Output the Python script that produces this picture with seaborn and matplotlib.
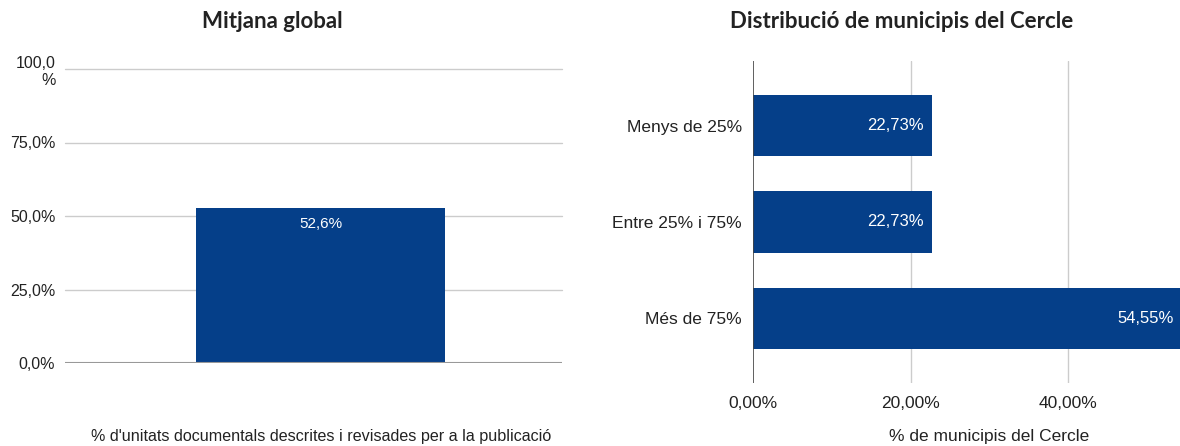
import numpy as np
import matplotlib
matplotlib.use('Agg')
import matplotlib.pyplot as plt
import seaborn as sns

# data
mitjana_cat = [""]
mitjana_val = [52.6]
mitjana_ticks = [0, 25, 50, 75, 100]
mitjana_ticklabels = ["0,0%", "25,0%", "50,0%", "75,0%", "100,0\n%"]
mitjana_xlabel = "% d'unitats documentals descrites i revisades per a la publicació"

dist_cats = ["Menys de 25%", "Entre 25% i 75%", "Més de 75%"]
dist_vals = [22.73, 22.73, 54.55]
dist_ticks = [0, 20, 40]
dist_xlabel = "% de municipis del Cercle"

BLUE = '#053F89'
TXT = '#222222'

sns.set_style('white')
plt.rcParams['font.family'] = ['Liberation Sans', 'DejaVu Sans']

fig = plt.figure(figsize=(11.8, 4.46), dpi=100)
W, H = 1180, 446


def box(x0, y0, x1, y1):
    return [x0 / W, 1 - y1 / H, (x1 - x0) / W, (y1 - y0) / H]


# --- left: Mitjana global ---
ax1 = fig.add_axes(box(65, 69, 562, 363))
sns.barplot(x=mitjana_cat, y=mitjana_val, color=BLUE, saturation=1,
            width=0.5, linewidth=0, ax=ax1)
ax1.set_xlim(-0.514, 0.486)
ax1.set_ylim(0, 100)
ax1.set_yticks(mitjana_ticks)
ax1.set_yticklabels(mitjana_ticklabels, fontsize=11.5, color=TXT,
                    multialignment='right')
ax1.tick_params(axis='y', length=0, pad=7)
ax1.set_xticks([])
for t in mitjana_ticks[1:]:
    ax1.axhline(t, color='#cccccc', lw=1, zorder=0, clip_on=False)
ax1.axhline(0, color='#999999', lw=1.5, zorder=3)
for s in ax1.spines.values():
    s.set_visible(False)
for p, v in zip(ax1.patches, mitjana_val):
    ax1.annotate(f"{v:.1f}%".replace('.', ','),
                 (p.get_x() + p.get_width() / 2, p.get_height()),
                 xytext=(0, -6), textcoords='offset points',
                 ha='center', va='top', color='white', fontsize=11)
ax1.set_xlabel(mitjana_xlabel, fontsize=11.6, color=TXT)
ax1.xaxis.set_label_coords((321 - 65) / 497, -(429 - 363) / 294)
fig.text(272 / W, 1 - 22 / H, "Mitjana global", ha='center', va='center',
         fontsize=16, fontweight='bold', color=TXT,
         family=['Lato', 'DejaVu Sans'])

# --- right: Distribució de municipis del Cercle ---
ax2 = fig.add_axes(box(753, 61, 1180, 383))
sns.barplot(x=dist_vals, y=dist_cats, color=BLUE, saturation=1,
            width=0.64, linewidth=0, orient='h', ax=ax2)
ax2.set_xlim(0, (1180 - 753) / 7.875)
ax2.set_ylim(2.67, -0.67)
ax2.set_xticks(dist_ticks)
ax2.set_xticklabels([f"{t:.2f}%".replace('.', ',') for t in dist_ticks],
                    fontsize=12.5, color=TXT)
ax2.tick_params(axis='x', length=0, pad=9)
ax2.tick_params(axis='y', length=0, pad=8, labelsize=12.5, labelcolor=TXT)
ax2.set_ylabel("")
for t in dist_ticks[1:]:
    ax2.axvline(t, color='#cccccc', lw=1, zorder=0)
ax2.axvline(0, color='#444444', lw=1.2, zorder=3)
for s in ax2.spines.values():
    s.set_visible(False)
for i, v in enumerate(dist_vals):
    ax2.annotate(f"{v:.2f}%".replace('.', ','), (v, i),
                 xytext=(-6, 0), textcoords='offset points',
                 ha='right', va='center', color='white', fontsize=12,
                 annotation_clip=False)
ax2.set_xlabel(dist_xlabel, fontsize=12.5, color=TXT)
ax2.xaxis.set_label_coords((989 - 753) / 427, -(429 - 383) / 322)
fig.text(902 / W, 1 - 22 / H, "Distribució de municipis del Cercle",
         ha='center', va='center', fontsize=16, fontweight='bold',
         color=TXT, family=['Lato', 'DejaVu Sans'])

fig.savefig('out.png', dpi=100)
